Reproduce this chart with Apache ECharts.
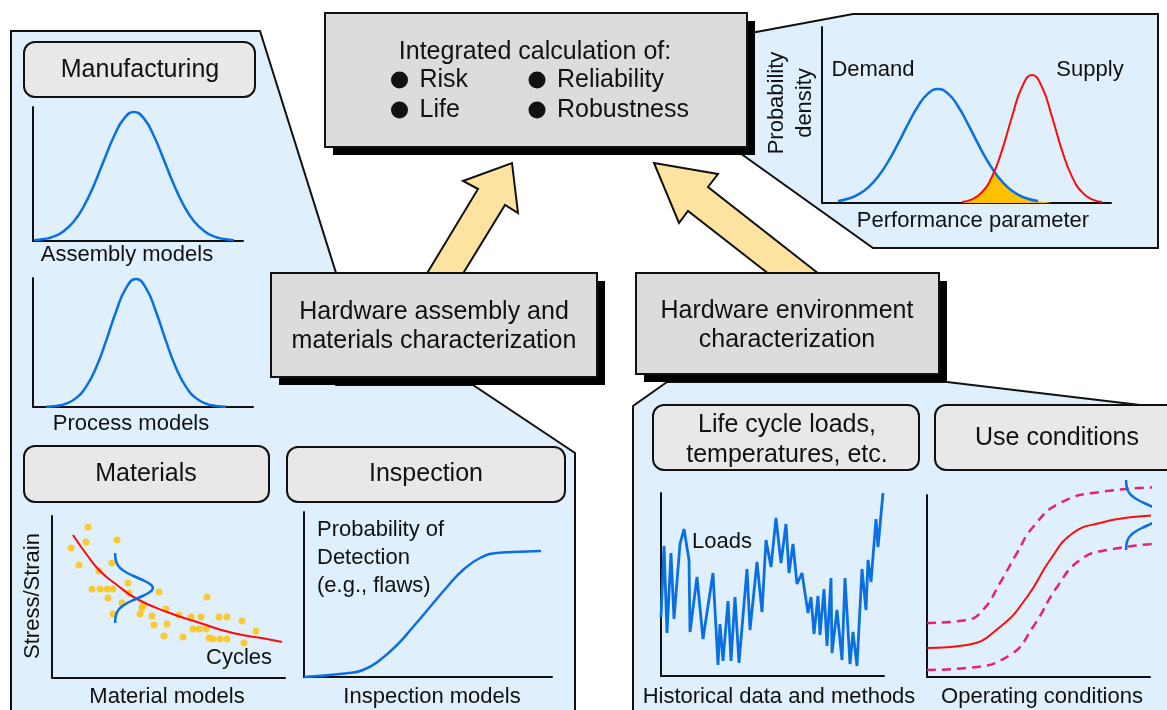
<!DOCTYPE html>
<html>
<head>
<meta charset="utf-8">
<title>Integrated calculation of risk, reliability, life, robustness</title>
<script src="https://cdn.jsdelivr.net/npm/echarts@6/dist/echarts.min.js"></script>
<style>
html, body { margin: 0; padding: 0; background: #fff; }
#chart { width: 1167px; height: 710px; }
</style>
</head>
<body>
<div id="chart"></div>
<script>
const assemblyCurve = [[1, 0.7], [11, 1.9], [21, 4.6], [31, 10.1], [41, 19.8], [51, 35.1], [61, 56.1], [71, 80.8], [81, 104.8], [91, 122.4], [101, 129], [111, 122.4], [121, 104.8], [131, 80.8], [141, 56.1], [151, 35.1], [161, 19.8], [171, 10.1], [181, 4.6], [191, 1.9], [201, 0.7]]
const processCurve = [[13, 0.3], [23, 1.1], [33, 3.4], [43, 8.9], [53, 20.1], [63, 39.2], [73, 65.8], [83, 95.2], [93, 118.9], [103, 128], [113, 118.9], [123, 95.2], [133, 65.8], [143, 39.2], [153, 20.1], [163, 8.9], [173, 3.4], [183, 1.1], [193, 0.3]]

const demandCurve = [[16, 1.9], [26, 4.2], [36, 8.4], [46, 15.4], [56, 26.2], [66, 41.1], [76, 59.3], [86, 78.9], [96, 96.8], [106, 109.4], [116, 114], [126, 109.4], [136, 96.8], [146, 78.9], [156, 59.3], [166, 41.1], [176, 26.2], [186, 15.4], [196, 8.4], [206, 4.2], [216, 1.9]]
const supplyCurve = [[140, 1.0], [150, 3.6], [160, 10.8], [170, 26.4], [180, 52.6], [190, 86.2], [200, 116], [210, 128], [220, 116], [230, 86.2], [240, 52.6], [250, 26.4], [260, 10.8], [270, 3.6], [280, 1.0]]
const overlapArea = [[140, 0], [150, 3.6], [160, 10.8], [165, 17.3], [172, 31], [180, 21.4], [190, 12.2], [200, 6.4], [210, 3.1], [220, 1.4], [230, 0]]

const materialDots = [[36, 151], [19, 130], [34, 136], [65, 138], [27, 113], [60, 115], [47, 107], [76, 95], [40, 89], [48, 89], [55, 89], [61, 89], [56, 80], [77, 85], [70, 75], [107, 86], [91, 73], [90, 70], [61, 64], [88, 64], [100, 62], [114, 69], [127, 63], [102, 53], [115, 54], [139, 61], [149, 61], [155, 81], [167, 61], [175, 61], [141, 49], [147, 49], [154, 49], [112, 42], [131, 41], [157, 40], [161, 39], [168, 39], [175, 39], [190, 57], [204, 47], [192, 35]]
const materialFit = [[21, 143], [35, 123], [48, 107], [65, 93], [85, 79], [115, 66], [148, 55], [181, 45], [215, 39], [230, 36]]
// scatter band drawn sideways: [x, y] pairs ordered top to bottom
const materialSpread = [[63.1, 125], [63.2, 122.5], [63.4, 120], [63.9, 117.5], [64.7, 115], [66.0, 112.5], [68.1, 110], [71.2, 107.5], [75.3, 105], [80.4, 102.5], [86.1, 100], [91.7, 97.5], [96.5, 95], [99.8, 92.5], [101, 90], [99.8, 87.5], [96.5, 85], [91.7, 82.5], [86.1, 80], [80.4, 77.5], [75.3, 75], [71.2, 72.5], [68.1, 70], [66.0, 67.5], [64.7, 65], [63.9, 62.5], [63.4, 60], [63.2, 57.5], [63.1, 55]]

const detectionCurve = [[0, 0], [43, 3.7], [59, 7], [76, 17], [93, 32], [109, 50], [126, 70], [143, 90], [159, 107], [176, 119], [193, 124], [209, 125], [237, 126]]

const loadHistory = [[0, 59], [3, 130], [6, 43], [10, 123], [13, 57], [19, 132], [23, 147], [28, 116], [29, 44], [36, 99], [42, 37], [52, 103], [57, 11], [59, 52], [62, 15], [67, 75], [70, 15], [74, 79], [78, 13], [86, 107], [89, 46], [96, 114], [101, 64], [105, 136], [110, 109], [115, 158], [120, 113], [125, 152], [128, 103], [132, 132], [136, 92], [141, 103], [147, 63], [150, 79], [153, 42], [157, 80], [159, 41], [163, 87], [166, 30], [170, 98], [171, 23], [176, 66], [181, 16], [184, 98], [189, 12], [192, 44], [196, 10], [201, 107], [205, 66], [207, 116], [210, 94], [215, 157], [217, 129], [222, 183]]

const useMean = [[0, 29], [40, 32], [73, 50], [100, 80], [123, 117], [146, 144], [173, 154], [206, 160], [240, 162]]
const useUpper = [[0, 54], [40, 57], [56, 67], [73, 94], [90, 124], [106, 150], [133, 174], [173, 185], [240, 190]]
const useLower = [[0, 7], [40, 9], [83, 22], [106, 50], [130, 90], [153, 117], [180, 127], [240, 134]]
const useSpread = [[199.1, 197], [199.2, 194.5], [199.4, 192], [199.8, 189.5], [200.6, 187], [201.9, 184.5], [204, 182], [207, 179.5], [211, 177], [215.9, 174.5], [221.5, 172], [226.9, 169.5], [231.6, 167], [234.9, 164.5], [236, 162], [234.9, 159.5], [231.6, 157], [226.9, 154.5], [221.5, 152], [215.9, 149.5], [211, 147], [207, 144.5], [204, 142], [201.9, 139.5], [200.6, 137], [199.8, 134.5], [199.4, 132], [199.2, 129.5], [199.1, 127]]

const bulletItems = ['Risk', 'Reliability', 'Life', 'Robustness']

const FONT = '"Liberation Sans", Arial, Helvetica, sans-serif'
const INK = '#111'
const BLUE = '#0a6fe0'
const RED = '#ff0a0a'
const PINK = '#e8226e'
const GOLD = '#ffc000'
const PANEL = '#dff0fc'

// plot frames [left, top, width, height]
const frames = [
    [33, 107, 210, 134],   // assembly models
    [33, 278, 220, 129],   // process models
    [822, 27, 289, 176],   // demand / supply
    [52, 516, 233, 162],   // material models
    [304, 512, 248, 165],  // inspection models
    [661, 493, 223, 183],  // loads
    [927, 495, 223, 182]   // operating conditions
]

const axisBase = {
    type: 'value',
    min: 0,
    axisLine: { show: true, onZero: false, lineStyle: { color: INK, width: 2 } },
    axisTick: { show: false },
    axisLabel: { show: false },
    splitLine: { show: false },
    z: 5
}

function curve(i, data, color, extra) {
    return Object.assign({
        type: 'line',
        xAxisIndex: i,
        yAxisIndex: i,
        data: data,
        smooth: true,
        symbol: 'none',
        clip: false,
        silent: true,
        lineStyle: { color: color, width: 2.5 },
        z: 10
    }, extra || {})
}

function text(x, y, str, size, extra) {
    return Object.assign({
        type: 'text',
        x: x,
        y: y,
        z: 30,
        style: {
            text: str,
            font: size + 'px ' + FONT,
            fill: INK,
            align: 'center',
            verticalAlign: 'middle'
        }
    }, extra || {})
}

function leftText(x, y, str, size) {
    return text(x, y, str, size, {
        style: { text: str, font: size + 'px ' + FONT, fill: INK, align: 'left', verticalAlign: 'middle' }
    })
}

function poly(points, fill, z) {
    return {
        type: 'polygon',
        z: z,
        shape: { points: points },
        style: { fill: fill, stroke: INK, lineWidth: 2 }
    }
}

function shadowBox(x, y, w, h) {
    return [
        { type: 'rect', z: 21, shape: { x: x + 8, y: y + 8, width: w, height: h }, style: { fill: '#000' } },
        { type: 'rect', z: 22, shape: { x: x, y: y, width: w, height: h }, style: { fill: '#dcdcdc', stroke: INK, lineWidth: 2 } }
    ]
}

function roundBox(x, y, w, h) {
    return { type: 'rect', z: 22, shape: { x: x, y: y, width: w, height: h, r: 11 }, style: { fill: '#e8e8e8', stroke: INK, lineWidth: 2 } }
}

const graphics = [
    // panels
    poly([[11, 31], [260, 31], [336, 273], [336, 385], [473, 385], [575, 453], [575, 730], [11, 730]], PANEL, 1),
    poly([[740, 35], [853, 14], [1158, 14], [1158, 248], [873, 248], [740, 153]], PANEL, 1),
    poly([[667, 382], [633, 406], [633, 730], [1200, 730], [1200, 405], [1140, 405], [947, 382]], PANEL, 1),
    // arrows
    poly([[512, 163], [518, 213], [505, 205], [456, 285], [420, 285], [478, 189], [463, 181]], '#fde3a0', 20),
    poly([[654, 163], [718, 174], [708, 187], [833, 285], [783, 285], [688, 211], [679, 223]], '#fde3a0', 20),
    // boxes with shadows
    ...shadowBox(325, 13, 422, 134),
    ...shadowBox(271, 273, 326, 104),
    ...shadowBox(636, 273, 303, 101),
    roundBox(24, 42, 231, 55),
    roundBox(24, 446, 245, 56),
    roundBox(287, 447, 278, 55),
    roundBox(653, 405, 266, 65),
    roundBox(935, 405, 270, 65),
    // box titles
    text(535, 52, 'Integrated calculation of:', 25),
    text(434, 312, 'Hardware assembly and', 25),
    text(434, 341, 'materials characterization', 25),
    text(787, 311, 'Hardware environment', 25),
    text(787, 340, 'characterization', 25),
    text(140, 70, 'Manufacturing', 25),
    text(146, 474, 'Materials', 25),
    text(426, 474, 'Inspection', 25),
    text(787, 425, 'Life cycle loads,', 25),
    text(787, 455, 'temperatures, etc.', 25),
    text(1057, 438, 'Use conditions', 25),
    // plot captions
    text(127, 255, 'Assembly models', 22),
    text(131, 424, 'Process models', 22),
    text(973, 221, 'Performance parameter', 22),
    text(873, 70, 'Demand', 22),
    text(1090, 70, 'Supply', 22),
    text(777, 103, 'Probability', 22, { rotation: Math.PI / 2 }),
    text(805, 103, 'density', 22, { rotation: Math.PI / 2 }),
    text(167, 697, 'Material models', 22),
    text(239, 658, 'Cycles', 22),
    text(33, 596, 'Stress/Strain', 22, { rotation: Math.PI / 2 }),
    text(432, 697, 'Inspection models', 22),
    leftText(317, 530, 'Probability of', 22),
    leftText(317, 558, 'Detection', 22),
    leftText(317, 586, '(e.g., flaws)', 22),
    text(722, 542, 'Loads', 22),
    text(779, 697, 'Historical data and methods', 22),
    text(1042, 697, 'Operating conditions', 22)
]

// bullet list inside the top box
const bulletPos = [[399.5, 80], [537, 80], [399.5, 110], [537, 110]]
bulletItems.forEach(function (name, k) {
    const p = bulletPos[k]
    graphics.push({ type: 'circle', z: 30, shape: { cx: p[0], cy: p[1], r: 8.5 }, style: { fill: INK } })
    graphics.push(leftText(p[0] + 20, p[1], name, 25))
})

const chart = echarts.init(document.getElementById('chart'))
chart.setOption({
    backgroundColor: '#fff',
    animation: false,
    grid: frames.map(function (f) {
        return { left: f[0], top: f[1], width: f[2], height: f[3] }
    }),
    xAxis: frames.map(function (f, i) {
        return Object.assign({}, axisBase, { gridIndex: i, max: f[2] })
    }),
    yAxis: frames.map(function (f, i) {
        return Object.assign({}, axisBase, { gridIndex: i, max: f[3] })
    }),
    graphic: { elements: graphics },
    series: [
        curve(0, assemblyCurve, BLUE),
        curve(1, processCurve, BLUE),
        curve(2, overlapArea, GOLD, { smooth: false, lineStyle: { width: 0 }, areaStyle: { color: GOLD, opacity: 1 }, z: 8 }),
        curve(2, demandCurve, BLUE),
        curve(2, supplyCurve, RED, { lineStyle: { color: RED, width: 2 } }),
        {
            type: 'scatter',
            xAxisIndex: 3,
            yAxisIndex: 3,
            data: materialDots,
            symbolSize: 7,
            itemStyle: { color: GOLD },
            silent: true,
            z: 9
        },
        curve(3, materialFit, RED, { lineStyle: { color: RED, width: 2 } }),
        curve(3, materialSpread, BLUE, { smooth: false, lineStyle: { color: BLUE, width: 2.5, join: 'round' } }),
        curve(4, detectionCurve, BLUE),
        curve(5, loadHistory, BLUE, { smooth: false, lineStyle: { color: BLUE, width: 2.8 } }),
        curve(6, useUpper, PINK, { lineStyle: { color: PINK, width: 2.5, type: [9, 6] } }),
        curve(6, useLower, PINK, { lineStyle: { color: PINK, width: 2.5, type: [9, 6] } }),
        curve(6, useMean, RED, { lineStyle: { color: RED, width: 2 } }),
        curve(6, useSpread, BLUE, { smooth: false, lineStyle: { color: BLUE, width: 2.5, join: 'round' } })
    ]
})
</script>
</body>
</html>
